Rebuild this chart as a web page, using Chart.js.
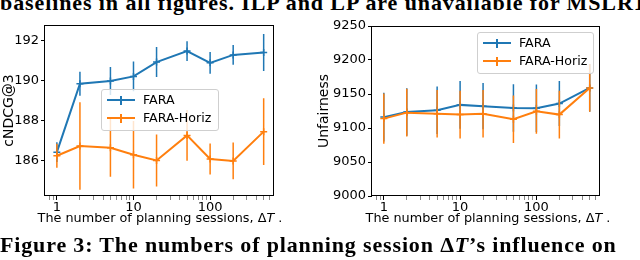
<!DOCTYPE html>
<html>
<head>
<meta charset="utf-8">
<script src="https://cdn.jsdelivr.net/npm/chart.js@4"></script>
<style>
  body { margin: 0; width: 640px; height: 260px; overflow: hidden; background: #fff; position: relative; }
  canvas { position: absolute; top: 0; }
  .cap { position: absolute; left: 0; white-space: nowrap; font-family: "Liberation Serif", serif; font-weight: bold; color: #000; }
  .xt { position: absolute; top: 210px; width: 300px; text-align: center; white-space: nowrap; font: 12.8px "DejaVu Sans"; line-height: 16px; color: #000; }
  .leg { position: absolute; border: 1px solid #cfcfcf; border-radius: 3px; background: rgba(255,255,255,0.8); box-sizing: border-box; }
  .leg .hl { position: absolute; left: 5px; width: 28px; height: 2px; }
  .leg .vl { position: absolute; left: 18px; width: 2px; height: 9px; }
  .leg .txt { position: absolute; left: 41px; font: 12.6px "DejaVu Sans"; line-height: 14px; color: #000; }
</style>
</head>
<body>
<div class="cap" style="top:-10px;font-size:22px;letter-spacing:0.9px;">baselines in all figures. ILP and LP are unavailable for MSLR10K</div>

<canvas id="ndcg" width="320" height="260" style="left:0"></canvas>
<canvas id="unf" width="324" height="260" style="left:316px"></canvas>

<div class="xt" style="left:10px">The number of planning sessions, Δ<i>T</i> .</div>
<div class="xt" style="left:338px">The number of planning sessions, Δ<i>T</i> .</div>

<div id="leg1" class="leg" style="left:101px;top:89px;width:118px;height:42px"></div>
<div id="leg2" class="leg" style="left:477px;top:32px;width:117px;height:42px"></div>

<div class="cap" style="top:232px;font-size:22px;letter-spacing:0.85px;">Figure 3: The numbers of planning session Δ<i>T</i>’s influence on</div>

<script>
// planning sessions (x values, log scale)
const sessions = [1, 2, 5, 10, 20, 50, 100, 200, 500];
const seriesNames = ['FARA', 'FARA-Horiz'];

// cNDCG@3
const ndcgFara = [186.4, 189.83, 189.97, 190.2, 190.92, 191.47, 190.88, 191.28, 191.4];
const ndcgFaraErr = [0.5, 0.6, 0.7, 0.75, 0.75, 0.5, 0.55, 0.5, 0.93];
const ndcgHoriz = [186.22, 186.71, 186.62, 186.27, 185.98, 187.24, 186.06, 185.96, 187.43];
const ndcgHorizErr = [0.6, 2.2, 1.45, 1.69, 1.3, 1.27, 0.78, 0.92, 1.68];

// Unfairness
const unfFara = [9116, 9123.5, 9126, 9134, 9132, 9129.4, 9129, 9136, 9159];
const unfFaraErr = [36, 35, 35, 35, 34, 35, 35, 33, 35];
const unfHoriz = [9113.8, 9122.6, 9121, 9119.7, 9121, 9112.8, 9124.5, 9119.7, 9159];
const unfHorizErr = [37, 35, 35, 35, 35, 35, 33, 35, 35];

// tick values
const xMajorTicks = [1, 10, 100];
const xMinorTicks = [0.8, 0.9, 2, 3, 4, 5, 6, 7, 8, 9, 20, 30, 40, 50, 60, 70, 80, 90, 200, 300, 400, 500, 600];
const ndcgTicks = [186, 188, 190, 192];
const unfTicks = [9000, 9050, 9100, 9150, 9200, 9250];

const BLUE = '#1f77b4';
const ORANGE = '#ff7f0e';
const FONT = { family: 'DejaVu Sans', size: 13 };

function points(vals) {
    return sessions.map((x, i) => ({ x: x, y: vals[i] }));
}
function errBars(vals, errs) {
    const out = [];
    sessions.forEach((x, i) => {
        out.push({ x: x, y: vals[i] - errs[i] });
        out.push({ x: x, y: vals[i] + errs[i] });
        out.push({ x: x, y: null });
    });
    return out;
}

const framePlugin = {
    id: 'frame',
    afterDraw(chart) {
        const { ctx, chartArea: a } = chart;
        ctx.save();
        ctx.strokeStyle = '#000';
        ctx.lineWidth = 1;
        ctx.strokeRect(Math.round(a.left) - 0.5, Math.round(a.top) + 0.5,
            Math.round(a.right - a.left), Math.round(a.bottom - a.top) - 1);
        ctx.restore();
    }
};

function makeChart(id, cfg) {
    const lineDs = (label, vals, color, order) => ({
        label: label, data: points(vals), borderColor: color, backgroundColor: color,
        borderWidth: 2, pointStyle: 'cross', pointRadius: 3.5, pointBorderWidth: 1.5,
        tension: 0, order: order
    });
    const errDs = (vals, errs, color, order) => ({
        label: '', data: errBars(vals, errs), borderColor: color,
        borderWidth: 1.5, pointRadius: 0, spanGaps: false, order: order
    });

    return new Chart(document.getElementById(id), {
        type: 'line',
        data: {
            datasets: [
                errDs(cfg.a, cfg.aErr, BLUE, 3),
                lineDs(seriesNames[0], cfg.a, BLUE, 2),
                errDs(cfg.b, cfg.bErr, ORANGE, 1),
                lineDs(seriesNames[1], cfg.b, ORANGE, 0)
            ]
        },
        options: {
            responsive: false,
            animation: false,
            layout: { padding: { left: 0, right: cfg.padRight, top: cfg.padTop, bottom: 33 } },
            plugins: { legend: { display: false }, tooltip: { enabled: false } },
            scales: {
                x: {
                    type: 'logarithmic',
                    min: 0.733,
                    max: 682,
                    afterBuildTicks: s => {
                        s.ticks = xMinorTicks.map(v => ({ value: v }))
                            .concat(xMajorTicks.map(v => ({ value: v, major: true })))
                            .sort((p, q) => p.value - q.value);
                    },
                    afterFit: s => { s.height = 31; },
                    ticks: {
                        autoSkip: false, maxRotation: 0, padding: 0, color: '#000', font: FONT,
                        callback: v => xMajorTicks.includes(v) ? String(v) : ''
                    },
                    grid: {
                        drawOnChartArea: false, tickLength: 4,
                        tickColor: c => (c.tick && c.tick.major) ? '#000' : '#555',
                        tickWidth: c => (c.tick && c.tick.major) ? 1 : 0.7
                    },
                    border: { display: false }
                },
                y: {
                    type: 'linear',
                    min: cfg.yMin,
                    max: cfg.yMax,
                    afterBuildTicks: s => { s.ticks = cfg.yTicks.map(v => ({ value: v })); },
                    afterFit: s => { s.width = cfg.yWidth; },
                    ticks: { padding: 2, color: '#000', font: FONT, callback: v => String(v) },
                    grid: { drawOnChartArea: false, tickLength: 4, tickColor: '#000' },
                    border: { display: false },
                    title: {
                        display: true, text: cfg.yTitle, color: '#000',
                        font: { family: 'DejaVu Sans', size: 14 },
                        padding: { top: cfg.titlePad, bottom: 0 }
                    }
                }
            }
        },
        plugins: [framePlugin]
    });
}

makeChart('ndcg', {
    a: ndcgFara, aErr: ndcgFaraErr, b: ndcgHoriz, bErr: ndcgHorizErr,
    yMin: 184.2, yMax: 192.78, yTicks: ndcgTicks, yTitle: 'cNDCG@3',
    yWidth: 45, padRight: 46, padTop: 25, titlePad: 1
});

makeChart('unf', {
    a: unfFara, aErr: unfFaraErr, b: unfHoriz, bErr: unfHorizErr,
    yMin: 9000, yMax: 9250, yTicks: unfTicks, yTitle: 'Unfairness',
    yWidth: 56, padRight: 40, padTop: 26, titlePad: 0
});

function buildLegend(id) {
    const el = document.getElementById(id);
    [BLUE, ORANGE].forEach((c, i) => {
        const cy = 10 + i * 18.3;
        el.insertAdjacentHTML('beforeend',
            '<div class="hl" style="top:' + (cy - 1) + 'px;background:' + c + '"></div>' +
            '<div class="vl" style="top:' + (cy - 4.5) + 'px;background:' + c + '"></div>' +
            '<div class="txt" style="top:' + (cy - 7) + 'px">' + seriesNames[i] + '</div>');
    });
}
buildLegend('leg1');
buildLegend('leg2');
</script>
</body>
</html>
